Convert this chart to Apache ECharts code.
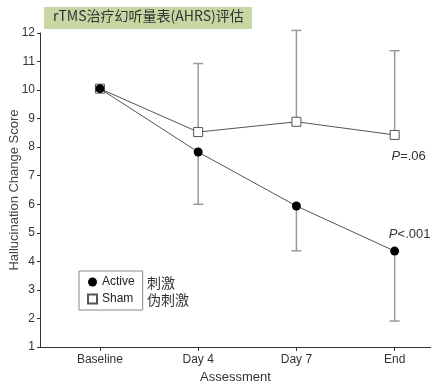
<!DOCTYPE html>
<html>
<head>
<meta charset="utf-8">
<script src="https://cdn.jsdelivr.net/npm/echarts@6/dist/echarts.min.js"></script>
<style>html,body{margin:0;padding:0;background:#fff;}#c{width:431px;height:386px;}</style>
</head>
<body>
<div id="c"></div>
<script>
var categories = ['Baseline', 'Day 4', 'Day 7', 'End'];
var activeValues = [10.05, 7.83, 5.94, 4.36];
var shamValues = [10.05, 8.53, 8.89, 8.43];
var activeLower = [null, 6.0, 4.37, 1.91];
var shamUpper = [null, 10.93, 12.09, 11.38];
var yTicks = [1, 2, 3, 4, 5, 6, 7, 8, 9, 10, 11, 12];
var pLabels = ['=.06', '<.001'];

var FONT = '"Liberation Sans Narrow", "Liberation Sans", Arial, sans-serif';
var chart = echarts.init(document.getElementById('c'));

function errData(means, bounds) {
  var out = [];
  for (var i = 0; i < means.length; i++) {
    if (bounds[i] != null) out.push([i, means[i], bounds[i]]);
  }
  return out;
}
function errRender(params, api) {
  var x = api.value(0);
  var p0 = api.coord([x, api.value(1)]);
  var p1 = api.coord([x, api.value(2)]);
  var hw = 5;
  var st = { stroke: '#9a9a9a', lineWidth: 1.5 };
  return {
    type: 'group',
    children: [
      { type: 'line', shape: { x1: p0[0], y1: p0[1], x2: p1[0], y2: p1[1] }, style: st },
      { type: 'line', shape: { x1: p1[0] - hw, y1: p1[1], x2: p1[0] + hw, y2: p1[1] }, style: st }
    ]
  };
}
function pts(vals) {
  return vals.map(function (v, i) { return [i, v]; });
}
var rich = { i: { fontStyle: 'italic', fontSize: 13, color: '#333', fontFamily: FONT } };
var shamData = pts(shamValues);
shamData[3] = { value: shamData[3], label: { show: true, position: 'bottom', distance: 10, offset: [14, 0], formatter: '{i|P}' + pLabels[0], rich: rich, fontSize: 13, color: '#333', fontFamily: FONT } };
var activeData = pts(activeValues);
activeData[3] = { value: activeData[3], label: { show: true, position: 'top', distance: 6, offset: [15, 0], formatter: '{i|P}' + pLabels[1], rich: rich, fontSize: 13, color: '#333', fontFamily: FONT } };

chart.setOption({
  animation: false,
  backgroundColor: '#fff',
  grid: { left: 40, right: 0, top: 33, bottom: 39, outerBoundsMode: 'none', containLabel: false },
  xAxis: {
    type: 'value', min: -0.61, max: 3.37,
    name: 'Assessment', nameLocation: 'middle', nameGap: 21,
    nameTextStyle: { fontSize: 13, color: '#333', fontFamily: FONT },
    axisLine: { onZero: false, lineStyle: { color: '#333', width: 1 } },
    axisTick: { show: true, length: 4, customValues: [0, 1, 2, 3], lineStyle: { color: '#333' } },
    axisLabel: { customValues: [0, 1, 2, 3], fontSize: 12, color: '#333', fontFamily: FONT, margin: 7,
      formatter: function (v) { return categories[Math.round(v)]; } },
    splitLine: { show: false }
  },
  yAxis: {
    type: 'value', min: yTicks[0], max: yTicks[yTicks.length - 1], interval: 1,
    name: 'Hallucination Change Score', nameLocation: 'middle', nameGap: 19, nameMoveOverlap: false,
    nameTextStyle: { fontSize: 13, color: '#444', fontFamily: FONT },
    axisLine: { show: true, onZero: false, lineStyle: { color: '#333', width: 1 } },
    axisTick: { show: true, length: 3, lineStyle: { color: '#333' } },
    axisLabel: { fontSize: 12, color: '#333', fontFamily: FONT, margin: 5 },
    splitLine: { show: false }
  },
  legend: {
    orient: 'vertical', left: 79, top: 271,
    borderColor: '#888', borderWidth: 1, padding: [5, 8, 5, 8],
    itemWidth: 9, itemHeight: 9, itemGap: 5,
    textStyle: { fontSize: 12, color: '#222', fontFamily: FONT },
    data: [
      { name: 'Active', icon: 'circle' },
      { name: 'Sham', icon: 'rect' }
    ]
  },
  graphic: [
    { type: 'rect', left: 44, top: 7, shape: { width: 208, height: 22 }, style: { fill: '#c8d6a4' }, z: 10 },
    { type: 'text', left: 53, top: 9, style: { text: 'rTMS治疗幻听量表(AHRS)评估', fill: '#333', font: '14px "Noto Sans CJK SC", "Noto Sans", sans-serif' }, z: 11 },
    { type: 'text', left: 147, top: 276, style: { text: '刺激', fill: '#333', font: '14px "Noto Sans CJK SC", sans-serif' } },
    { type: 'text', left: 147, top: 293, style: { text: '伪刺激', fill: '#333', font: '14px "Noto Sans CJK SC", sans-serif' } }
  ],
  series: [
    { type: 'custom', name: 'shamErr', renderItem: errRender, data: errData(shamValues, shamUpper), encode: { x: 0, y: [1, 2] }, z: 1, silent: true },
    { type: 'custom', name: 'activeErr', renderItem: errRender, data: errData(activeValues, activeLower), encode: { x: 0, y: [1, 2] }, z: 1, silent: true },
    { type: 'line', name: 'Sham', data: shamData, symbol: 'rect', symbolSize: 9, z: 3,
      lineStyle: { color: '#555', width: 1 },
      itemStyle: { color: '#fff', borderColor: '#555', borderWidth: 1 } },
    { type: 'line', name: 'Active', data: activeData, symbol: 'circle', symbolSize: 9, z: 4,
      lineStyle: { color: '#555', width: 1 },
      itemStyle: { color: '#000', borderColor: '#000', borderWidth: 0 } }
  ]
});
</script>
</body>
</html>
